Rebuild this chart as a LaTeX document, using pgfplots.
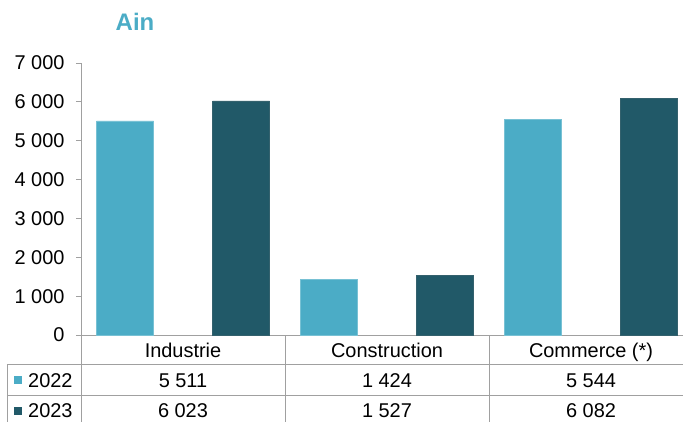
\documentclass[border=0pt]{standalone}
\usepackage{fontspec}
\setmainfont{Liberation Sans}
\usepackage{pgfplots}
\pgfplotsset{compat=1.18}
\definecolor{c22}{HTML}{4BACC6}
\definecolor{c23}{HTML}{215968}
\definecolor{gl}{HTML}{A0A0A0}
\begin{document}
\begin{tikzpicture}[x=1bp,y=1bp]
\begin{axis}[
  at={(0,0)}, anchor=south west,
  scale only axis, width=612bp, height=272bp,
  xmin=-0.5, xmax=2.5, ymin=0, ymax=7000,
  ybar, bar width=57bp,
  axis lines=left,
  axis line style={-, gl, line width=0.8pt},
  xtick=\empty,
  ytick={0,1000,2000,3000,4000,5000,6000,7000},
  yticklabels={0,1 000,2 000,3 000,4 000,5 000,6 000,7 000},
  tick align=outside,
  ytick style={gl, line width=0.8pt},
  major tick length=5bp,
  yticklabel style={font=\fontsize{20}{24}\selectfont, text=black, xshift=-8bp},
  clip=false,
]
\addplot[fill=c22, draw=c22!75!white, line width=0.5pt, bar shift=-58bp] coordinates {(0,5511) (1,1424) (2,5544)};
\addplot[fill=c23, draw=c23!80!gray, line width=0.5pt, bar shift=58bp] coordinates {(0,6023) (1,1527) (2,6082)};
\end{axis}
% title
\node[font=\fontsize{24}{28}\selectfont\bfseries, text=c22] at (54,313) {Ain};
% table grid
\draw[gl, line width=0.8pt] (-74,-29) -- (620,-29);
\draw[gl, line width=0.8pt] (-74,-60) -- (620,-60);
\draw[gl, line width=0.8pt] (-74,-91) -- (620,-91);
\draw[gl, line width=0.8pt] (-74,-29) -- (-74,-91);
\draw[gl, line width=0.8pt] (0,0) -- (0,-91);
\draw[gl, line width=0.8pt] (204,0) -- (204,-91);
\draw[gl, line width=0.8pt] (408,0) -- (408,-91);
\draw[gl, line width=0.8pt] (612,0) -- (612,-91);
% table text
\begin{scope}[every node/.style={font=\fontsize{20}{24}\selectfont, inner sep=0pt, anchor=base}]
\node at (102,-22) {Industrie};
\node at (306,-22) {Construction};
\node at (510,-22) {Commerce (*)};
\node at (102,-52) {5 511};
\node at (306,-52) {1 424};
\node at (510,-52) {5 544};
\node at (102,-82.5) {6 023};
\node at (306,-82.5) {1 527};
\node at (510,-82.5) {6 082};
\node[anchor=base west] at (-53,-52) {2022};
\node[anchor=base west] at (-53,-82.5) {2023};
\end{scope}
\fill[c22] (-67,-49) rectangle (-59,-41);
\fill[c23] (-67,-80) rectangle (-59,-72);
\pgfresetboundingbox
\path[use as bounding box] (-81,-86) rectangle (602,335);
\end{tikzpicture}
\end{document}
